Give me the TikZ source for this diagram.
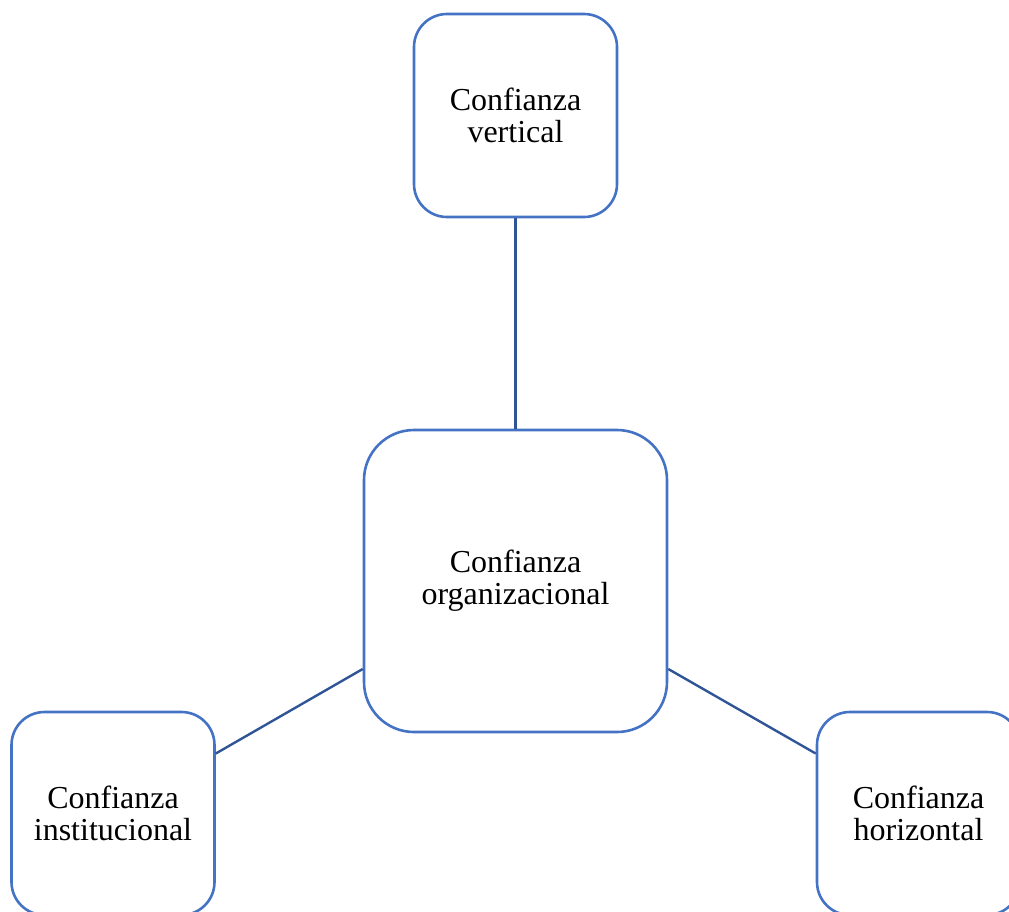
\documentclass[tikz,border=0pt]{standalone}
\usepackage{fontspec}
\setmainfont{Liberation Serif}
\definecolor{boxblue}{HTML}{4472C4}
\definecolor{lineblue}{HTML}{2F5597}
\begin{document}
\begin{tikzpicture}[x=1pt,y=-1pt,
  box/.style={draw=boxblue, line width=2.6pt, fill=white, rounded corners=33pt,
    minimum width=203pt, minimum height=203pt, align=center, inner sep=0pt,
    font=\fontsize{32}{32}\selectfont},
  bigbox/.style={box, rounded corners=50pt, minimum width=303pt, minimum height=302pt},
  link/.style={draw=lineblue, line width=2.4pt}]
\useasboundingbox (0,0) rectangle (1009,911);
\node[box] (v) at (515.5,115.5) {Confianza\\vertical};
\node[bigbox] (c) at (515.5,581) {Confianza\\organizacional};
\node[box] (i) at (113,813.5) {Confianza\\institucional};
\node[box] (h) at (918.5,813.5) {Confianza\\horizontal};
\draw[link] (v.south) -- (c.north);
\draw[link] ([yshift=60pt]i.east) -- ([yshift=-88pt]c.west);
\draw[link] ([yshift=-88pt]c.east) -- ([yshift=60pt]h.west);
\end{tikzpicture}
\end{document}
